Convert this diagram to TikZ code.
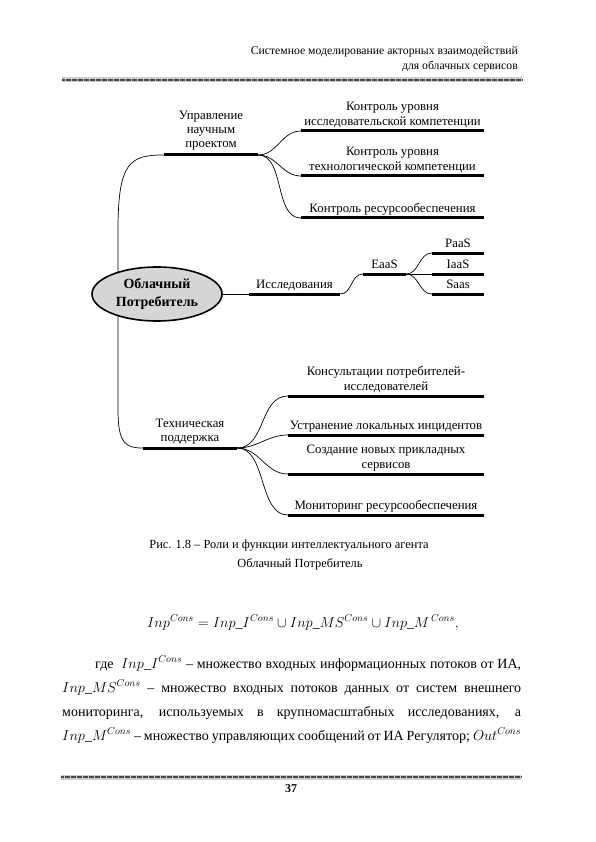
\documentclass[tikz,border=0pt]{standalone}
\usepackage{fontspec}
\setmainfont{Liberation Serif}
\usetikzlibrary{shapes.geometric,backgrounds}
\newcommand\dfont{\fontsize{12.8}{15.2}\selectfont}
\tikzset{
  bar/.style={fill=black, inner sep=0pt, minimum height=3pt},
  lbl/.style={font=\dfont, align=center, inner sep=0pt, anchor=south, text depth=3pt},
  con/.style={line width=0.7pt},
  hatch/.style={line width=2.8pt, black!72, dash pattern=on 0.6pt off 0.6pt},
  hatchbg/.style={line width=5pt, black!20},
  bodyline/.style={anchor=base west, inner sep=0pt, font=\fontsize{14}{17}\selectfont}
}
\begin{document}
\begin{tikzpicture}[x=1pt,y=-1pt]
\useasboundingbox (0,0) rectangle (595,842);
% header
\node[anchor=base east, inner sep=0pt, font=\fontsize{11.7}{13}\selectfont] (h1) at (518,55) {Системное моделирование акторных взаимодействий};
\node[anchor=base east, inner sep=0pt, font=\fontsize{11.7}{13}\selectfont] (h2) at (518,70) {для облачных сервисов};
\coordinate (hr1) at (62,80);
\coordinate (hr2) at (522,80);
\draw[hatchbg] (hr1) -- (hr2);
\draw[hatch] (hr1) -- (hr2);

% root
\node[ellipse, draw, line width=1.6pt, fill=black!16, minimum width=130pt, minimum height=54pt, inner sep=0pt, align=center, font=\fontsize{14}{18}\selectfont\bfseries] (root) at (157,294) {Облачный\\Потребитель};
\coordinate (vx) at (118,0);

% bars
\node[bar, minimum width=94pt] (u) at (211,155) {};
\node[bar, minimum width=183pt] (k1) at (392.5,131) {};
\node[bar, minimum width=183pt] (k2) at (392.5,176) {};
\node[bar, minimum width=183pt] (k3) at (392.5,218) {};
\node[bar, minimum width=91pt] (r) at (294.5,294) {};
\node[bar, minimum width=43pt] (e) at (384.5,274) {};
\node[bar, minimum width=52pt] (p1) at (458,253) {};
\node[bar, minimum width=52pt] (p2) at (458,274) {};
\node[bar, minimum width=52pt] (p3) at (458,294) {};
\node[bar, minimum width=94pt] (t) at (190,448) {};
\node[bar, minimum width=196pt] (s1) at (386,396) {};
\node[bar, minimum width=196pt] (s2) at (386,435) {};
\node[bar, minimum width=196pt] (s3) at (386,474) {};
\node[bar, minimum width=196pt] (s4) at (386,515) {};

% labels
\node[lbl, font=\fontsize{12.8}{14}\selectfont] (lu) at ([yshift=3pt]u.north) {Управление\\научным\\проектом};
\node[lbl] (lk1) at ([yshift=0.5pt]k1.north) {Контроль уровня\\исследовательской компетенции};
\node[lbl] (lk2) at ([yshift=0.5pt]k2.north) {Контроль уровня\\технологической компетенции};
\node[lbl] (lk3) at ([yshift=0.5pt]k3.north) {Контроль ресурсообеспечения};
\node[lbl] (lr) at ([yshift=0.5pt]r.north) {Исследования};
\node[lbl] (le) at ([yshift=0.5pt]e.north) {EaaS};
\node[lbl] (lp1) at ([yshift=0.5pt]p1.north) {PaaS};
\node[lbl] (lp2) at ([yshift=0.5pt]p2.north) {IaaS};
\node[lbl] (lp3) at ([yshift=0.5pt]p3.north) {Saas};
\node[lbl, font=\fontsize{12.8}{13.5}\selectfont] (lt) at ([yshift=2pt]t.north) {Техническая\\поддержка};
\node[lbl] (ls1) at ([yshift=0.5pt]s1.north) {Консультации потребителей-\\исследователей};
\node[lbl] (ls2) at ([yshift=0.5pt]s2.north) {Устранение локальных инцидентов};
\node[lbl] (ls3) at ([yshift=0.5pt]s3.north) {Создание новых прикладных\\сервисов};
\node[lbl] (ls4) at ([yshift=0.5pt]s4.north) {Мониторинг ресурсообеспечения};

% connectors
\begin{pgfonlayer}{background}
\draw[con] (root.center -| vx) -- (vx |- 0,230) .. controls (118,162) and (130,155) .. (u.west);
\draw[con] (root.center -| vx) -- (vx |- 0,410) .. controls (118,444) and (126,448) .. (t.west);
\draw[con] (root.center) -- (r.west);
\end{pgfonlayer}
\draw[con] (u.east) to[out=0,in=180] (k1.west);
\draw[con] (u.east) to[out=0,in=180] (k2.west);
\draw[con] (u.east) to[out=0,in=180,looseness=0.9] (k3.west);
\draw[con] (r.east) to[out=0,in=180] (e.west);
\draw[con] (e.east) to[out=0,in=180] (p1.west);
\draw[con] (e.east) -- (p2.west);
\draw[con] (e.east) to[out=0,in=180] (p3.west);
\draw[con] (t.east) to[out=0,in=180] (s1.west);
\draw[con] (t.east) to[out=0,in=180] (s2.west);
\draw[con] (t.east) to[out=0,in=180] (s3.west);
\draw[con] (t.east) to[out=0,in=180,looseness=0.9] (s4.west);

% caption
\node[anchor=base, inner sep=0pt, font=\fontsize{12.4}{14}\selectfont] (c1) at (289,548) {Рис. 1.8 – Роли и функции интеллектуального агента};
\node[anchor=base, inner sep=0pt, font=\fontsize{12.4}{14}\selectfont] (c2) at (300,567) {Облачный Потребитель};

% formula
\node[anchor=base, inner sep=0pt, font=\fontsize{14}{17}\selectfont] (f) at (303,627) {$Inp^{Cons} = Inp\_I^{Cons} \cup Inp\_MS^{Cons} \cup Inp\_M^{\,Cons},$};

% body
\node[bodyline] (b1) at (62,668) {\makebox[459pt][s]{\hspace*{33pt}где \ $Inp\_I^{Cons}$ – множество входных информационных потоков от ИА,}};
\node[bodyline] (b2) at (62,692) {\makebox[459pt][s]{$Inp\_MS^{Cons}$ – множество входных потоков данных от систем внешнего}};
\node[bodyline] (b3) at (62,716) {\makebox[459pt][s]{мониторинга, используемых в крупномасштабных исследованиях, а}};
\node[bodyline] (b4) at (62,740) {\makebox[459pt][s]{$Inp\_M^{Cons}$ – множество управляющих сообщений от ИА Регулятор; $Out^{Cons}$}};

% footer
\coordinate (fr1) at (61,777);
\coordinate (fr2) at (521,777);
\draw[hatchbg] (fr1) -- (fr2);
\draw[hatch] (fr1) -- (fr2);
\node[anchor=base, inner sep=0pt, font=\fontsize{12}{14}\selectfont\bfseries] (pg) at (291,792) {37};
\end{tikzpicture}
\end{document}
